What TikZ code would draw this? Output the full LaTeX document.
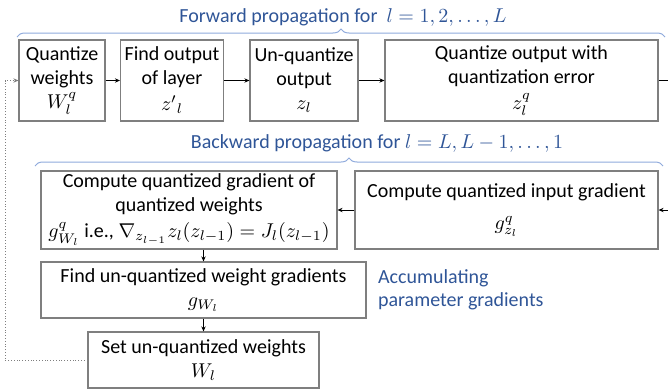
\documentclass[tikz,border=0pt]{standalone}
\usepackage{amsmath,amssymb}
\usepackage{fontspec}
\setmainfont{Carlito}
\usetikzlibrary{arrows.meta,decorations.pathreplacing}
\definecolor{labelblue}{HTML}{2F5597}
\definecolor{braceblue}{HTML}{8FAADC}
\definecolor{boxgray}{HTML}{7F7F7F}

\begin{document}
\begin{tikzpicture}[x=0.5pt,y=-0.5pt,
  font=\fontsize{10}{12}\selectfont,
  stage/.style={draw=boxgray,line width=0.6pt,align=center,inner sep=0pt},
  flow/.style={-{Stealth[length=2.5pt,width=2.2pt]},line width=0.4pt},
  fback/.style={flow,densely dotted,draw=boxgray},
  span/.style={draw=braceblue,line width=0.5pt,decorate,decoration={brace,amplitude=4pt}},
  note/.style={text=labelblue,font=\fontsize{10}{11.5}\selectfont}]
\useasboundingbox (0,0) rectangle (668,391);

% Forward pass
\node[note] (fwd) at (343,17) {Forward propagation for \ $l = 1, 2, \ldots, L$};
\draw[span] (17,37) -- (665,37);
\node[stage,minimum width=43pt,minimum height=40.5pt] (qw) at (62,80.5)
  {Quantize\\weights\\$W_l^q$};
\node[stage,minimum width=51.5pt,minimum height=40.5pt] (fo) at (172,80.5)
  {Find output\\of layer\\[1pt]${z'}_{l}$};
\node[stage,minimum width=54pt,minimum height=40.5pt] (uq) at (304,80.5)
  {Un-quantize\\output\\$z_l$};
\node[stage,minimum width=136.5pt,minimum height=40.5pt] (qo) at (521.5,80.5)
  {Quantize output with\\quantization error\\[1pt]$z_l^q$};
\coordinate (fout) at (668,80.5);
\draw[flow] (qw) -- (fo);
\draw[flow] (fo) -- (uq);
\draw[flow] (uq) -- (qo);
\draw[line width=0.4pt] (qo) -- (fout);

% Backward pass
\node[note] (bwd) at (377,143) {Backward propagation for $l = L, L-1, \ldots, 1$};
\draw[span] (35,166) -- (663,166);
\node[stage,minimum width=148pt,minimum height=39pt] (cg) at (189,210)
  {Compute quantized gradient of\\quantized weights\\[1pt]$g_{W_l}^q$ i.e., $\nabla_{z_{l-1}} z_l(z_{l-1}) = J_l(z_{l-1})$};
\node[stage,minimum width=151.5pt,minimum height=39pt] (ci) at (506.5,210)
  {Compute quantized input gradient\\[4pt]$g_{z_l}^q$};
\node[stage,minimum width=162.5pt,minimum height=28pt] (fu) at (203.5,290)
  {Find un-quantized weight gradients\\$g_{W_l}$};
\node[stage,minimum width=115.5pt,minimum height=28pt] (su) at (203.5,360)
  {Set un-quantized weights\\$W_l$};
\node[note,align=left,anchor=west] (acc) at (371,290) {Accumulating\\parameter gradients};
\coordinate (bin) at (668,210);
\draw[flow] (bin) -- (ci);
\draw[flow] (ci) -- (cg);
\draw[flow] (su.north |- cg.south) -- (fu);
\draw[flow] (fu) -- (su);

% Feedback to the next layer
\coordinate (fbx) at (5,80.5);
\draw[fback] (su.west) -| (fbx) -- (qw.west);
\end{tikzpicture}
\end{document}
